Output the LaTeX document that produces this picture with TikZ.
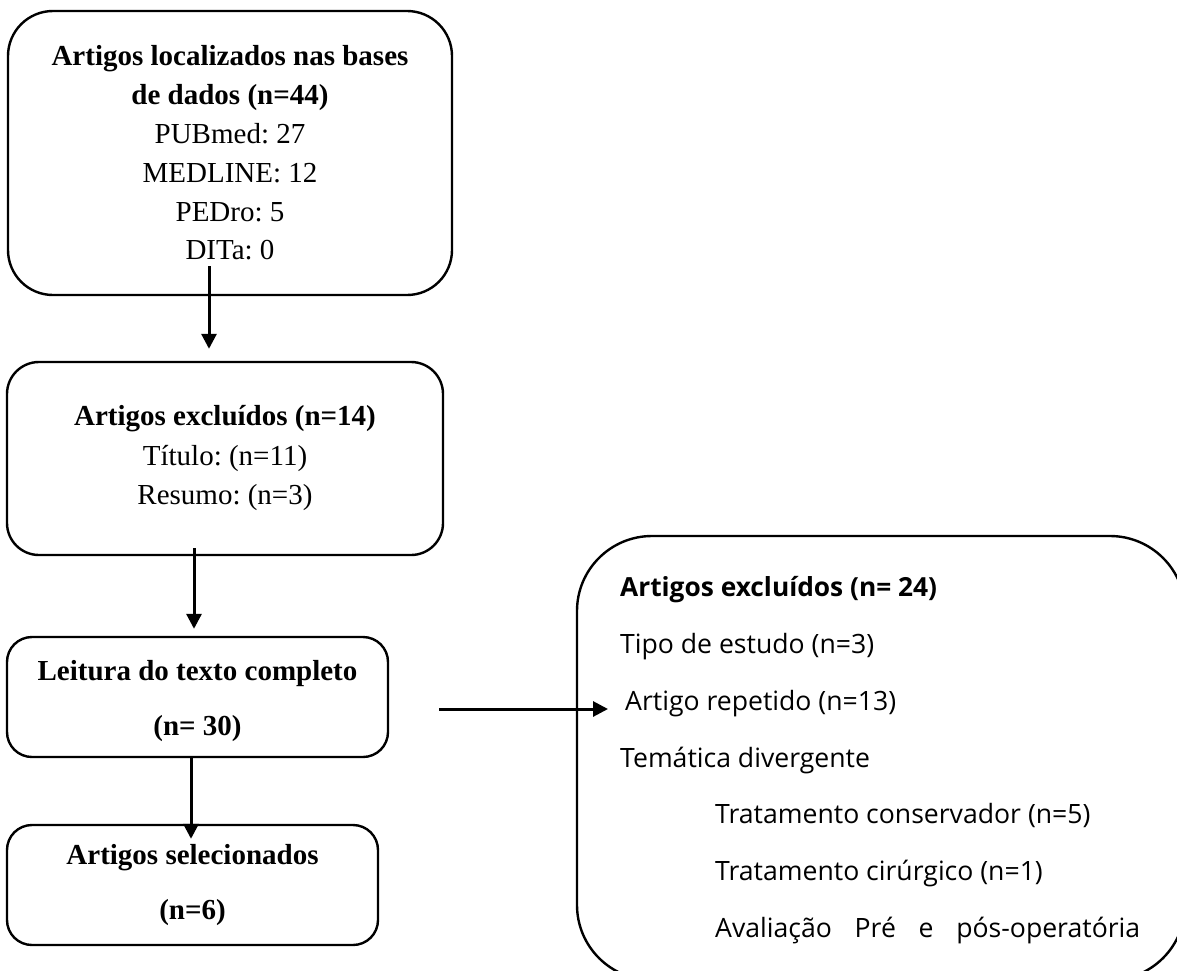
\documentclass[tikz,border=0pt]{standalone}
\usepackage{fontspec}
\setmainfont{Liberation Serif}
\newfontfamily\aptos{Open Sans}
\usetikzlibrary{arrows.meta}
\frenchspacing
\begin{document}
\begin{tikzpicture}[x=1pt,y=-1pt,
  box/.style={draw, line width=2.4pt, rounded corners=#1, inner sep=0pt, align=center},
  conn/.style={line width=3pt, -{Triangle[length=15pt,width=15pt]}},
  sline/.style={anchor=base west, inner sep=0pt, font=\aptos\fontsize{26.6}{32}\selectfont},
  sbold/.style={anchor=base west, inner sep=0pt, font=\aptos\bfseries\fontsize{26.3}{32}\selectfont},
]
\useasboundingbox (0,0) rectangle (1177,971);
\fill[white] (0,0) rectangle (1177,971);

\node[box=45pt, minimum width=444pt, minimum height=284pt,
      font=\fontsize{29}{38.8}\selectfont] (b1) at (230,153)
  {\textbf{Artigos localizados nas bases}\\\textbf{de dados (n=44)}\\PUBmed: 27\\MEDLINE: 12\\PEDro: 5\\DITa: 0};

\node[box=32pt, minimum width=436pt, minimum height=193pt,
      font=\fontsize{29}{39.5}\selectfont] (b2) at (225,458.5)
  {\textbf{Artigos excluídos (n=14)}\\Título: (n=11)\\Resumo: (n=3)};

\node[box=25pt, minimum width=381pt, minimum height=120pt,
      font=\fontsize{29}{55}\selectfont] (b3) at (197.5,697)
  {\rule{0pt}{28pt}\textbf{Leitura do texto completo}\\\textbf{(n= 30)}};

\node[box=25pt, minimum width=371pt, minimum height=120pt,
      font=\fontsize{29}{55}\selectfont] (b4) at (192.5,885)
  {\textbf{Artigos selecionados}\\\textbf{(n=6)}};

\begin{scope}
  \clip (0,0) rectangle (1177,971);
  \node[box=75pt, minimum width=608pt, minimum height=444pt] (rb) at (881,758) {};
\end{scope}

\node[sbold] (t1) at (620,596) {Artigos excluídos (n= 24)};
\node[sline] (t2) at (620,653) {Tipo de estudo (n=3)};
\node[sline] (t3) at (625,710) {Artigo repetido (n=13)};
\node[sline] (t4) at (620,767) {Temática divergente};
\node[sline] (t5) at (715,823) {Tratamento conservador (n=5)};
\node[sline] (t6) at (715,880) {Tratamento cirúrgico (n=1)};
\node[sline] (t7) at (715,937) {\makebox[425pt][s]{Avaliação Pré e pós-operatória}};

\coordinate (a4end) at (608,709);

\draw[conn] ([xshift=-21pt,yshift=30pt]b1.south) -- ([xshift=-16pt,yshift=12pt]b2.north);
\draw[conn] ([xshift=-31pt,yshift=8pt]b2.south) -- ([xshift=-3.5pt,yshift=7pt]b3.north);
\draw[conn] ([xshift=-6.5pt]b3.south) -- ([xshift=-1.5pt,yshift=-15pt]b4.north);
\draw[conn] ([xshift=50pt,yshift=-12pt]b3.east) -- (a4end);
\end{tikzpicture}
\end{document}
